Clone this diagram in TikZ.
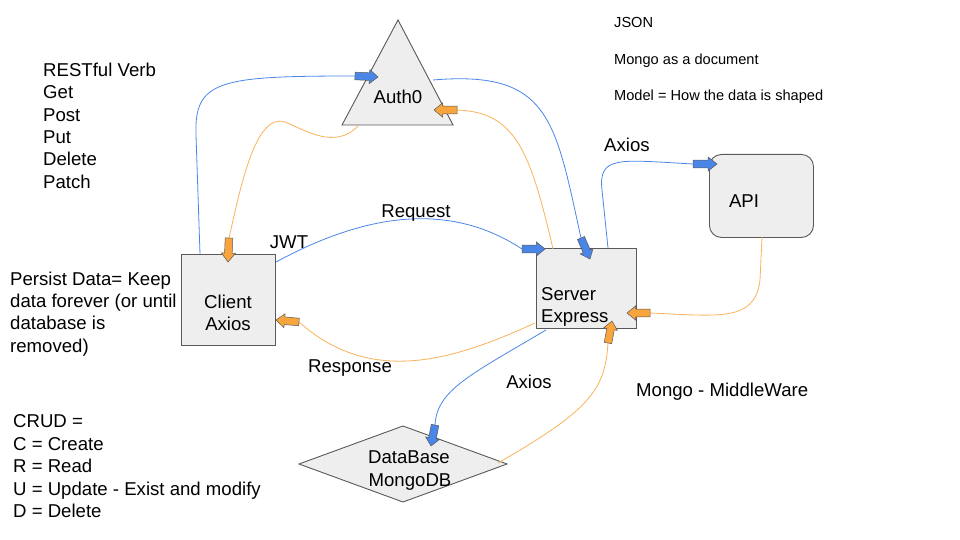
\documentclass[tikz,border=0pt]{standalone}
\usepackage{fontspec}
\setmainfont{Liberation Sans}
\usetikzlibrary{calc}
\definecolor{lineblue}{HTML}{4A86E8}
\definecolor{fillblue}{HTML}{4A86E8}
\definecolor{lineorange}{HTML}{F9B35A}
\definecolor{fillorange}{HTML}{F9A53E}
\definecolor{shapefill}{HTML}{EEEEEE}
\definecolor{shapeedge}{HTML}{595959}
\tikzset{
  shapebox/.style={draw=shapeedge, fill=shapefill, line width=0.9pt},
  bconn/.style={draw=lineblue, line width=0.8pt},
  oconn/.style={draw=lineorange, line width=0.8pt},
  bigtxt/.style={font=\fontsize{18.6}{22}\selectfont, inner sep=0pt, anchor=base west},
  smalltxt/.style={font=\fontsize{14.6}{17}\selectfont, inner sep=0pt, anchor=base west},
}
\newcommand{\blockarr}[3]{%
  \path (#1) coordinate (ba-t) ($(#1)!0.63!(#2)$) coordinate (ba-h) (#2) coordinate (ba-p);
  \filldraw[fill=#3, draw=shapeedge, line width=0.5pt, line join=miter]
    ($(ba-t)!3.8pt!90:(ba-p)$) -- ($(ba-h)!3.8pt!90:(ba-p)$) -- ($(ba-h)!7pt!90:(ba-p)$)
    -- (ba-p) -- ($(ba-h)!7pt!-90:(ba-p)$) -- ($(ba-h)!3.8pt!-90:(ba-p)$)
    -- ($(ba-t)!3.8pt!-90:(ba-p)$) -- cycle;}
\begin{document}
\begin{tikzpicture}[x=1pt,y=-1pt]
\fill[white] (0,0) rectangle (960,540);
\useasboundingbox (0,0) rectangle (960,540);

% shapes
\path[shapebox] (398,20) -- (453,125) -- (342,125) -- cycle;
\node[shapebox, minimum width=94pt, minimum height=91pt, inner sep=0pt, anchor=north west] (client) at (181,254) {};
\node[shapebox, minimum width=100pt, minimum height=80pt, inner sep=0pt, anchor=north west] (server) at (536,248) {};
\node[shapebox, rounded corners=12pt, minimum width=104pt, minimum height=83pt, inner sep=0pt, anchor=north west] (api) at (709,154) {};
\path[shapebox] (403,426) -- (507,464) -- (403,502) -- (299,464) -- cycle;

% attachment points
\coordinate (cTop) at (200,254);
\coordinate (cRight) at (276,262);
\coordinate (aRight) at (433,80);
\coordinate (aBase) at (358,126);
\coordinate (sTopR) at (608,248);
\coordinate (sTopL) at (553,249);
\coordinate (sLeft) at (535,323);
\coordinate (sBot) at (546,330);
\coordinate (apiBot) at (762,237);
\coordinate (dRight) at (498,463);
% arrow tails and tips
\coordinate (t1) at (355,76);  \coordinate (p1) at (378,77);
\coordinate (t2) at (581,238); \coordinate (p2) at (590,259);
\coordinate (t3) at (522,249); \coordinate (p3) at (545,249);
\coordinate (t4) at (693,164); \coordinate (p4) at (717,164);
\coordinate (t5) at (435,425); \coordinate (p5) at (431,446);
\coordinate (u1) at (229,238); \coordinate (q1) at (228,262);
\coordinate (u2) at (457,110); \coordinate (q2) at (434,110);
\coordinate (u3) at (299,322); \coordinate (q3) at (276,320);
\coordinate (u4) at (650,313); \coordinate (q4) at (627,313);
\coordinate (u5) at (608,343); \coordinate (q5) at (612,321);

% blue connectors
\draw[bconn] (cTop) -- (196,135) .. controls (194,80) and (220,76) .. (t1);
\draw[bconn] (aRight) .. controls (550,70) and (555,120) .. (t2);
\draw[bconn] (cRight) .. controls (350,222) and (440,195) .. (t3);
\draw[bconn] (sTopR) -- (602,190) .. controls (598,155) and (620,160) .. (t4);
\draw[bconn] (sBot) .. controls (470,375) and (437,390) .. (t5);
% orange connectors
\draw[oconn] (aBase) .. controls (335,150) and (305,130) .. (285,122) .. controls (255,112) and (240,190) .. (u1);
\draw[oconn] (sTopL) .. controls (530,150) and (515,112) .. (u2);
\draw[oconn] (sLeft) .. controls (450,362) and (370,385) .. (u3);
\draw[oconn] (apiBot) -- (760,280) .. controls (755,322) and (720,316) .. (u4);
\draw[oconn] (dRight) .. controls (590,410) and (605,390) .. (u5);

% block arrowheads
\blockarr{t1}{p1}{fillblue}
\blockarr{t2}{p2}{fillblue}
\blockarr{t3}{p3}{fillblue}
\blockarr{t4}{p4}{fillblue}
\blockarr{t5}{p5}{fillblue}
\blockarr{u1}{q1}{fillorange}
\blockarr{u2}{q2}{fillorange}
\blockarr{u3}{q3}{fillorange}
\blockarr{u4}{q4}{fillorange}
\blockarr{u5}{q5}{fillorange}

% shape labels
\node[bigtxt, anchor=base] (authlbl) at (398,104) {Auth0};
\node[bigtxt, anchor=base] (clientl1) at (228,308) {Client};
\node[bigtxt, anchor=base] (clientl2) at (228,330) {Axios};
\node[bigtxt] (serverl1) at (541,300) {Server};
\node[bigtxt] (serverl2) at (541,322) {Express};
\node[bigtxt, anchor=base] (apilbl) at (744,207) {API};
\node[bigtxt, anchor=base] (dbl1) at (409,463) {DataBase};
\node[bigtxt, anchor=base] (dbl2) at (410,486) {MongoDB};

% connector labels
\node[bigtxt] (axiosTop) at (604,152) {Axios};
\node[bigtxt, anchor=base] (reqlbl) at (416,217) {Request};
\node[bigtxt, anchor=base] (jwtlbl) at (289,248) {JWT};
\node[bigtxt, anchor=base] (resplbl) at (350,372) {Response};
\node[bigtxt, anchor=base] (axiosBot) at (529,388) {Axios};
\node[bigtxt] (mongomw) at (636,396) {Mongo - MiddleWare};

% notes
\foreach \t [count=\i] in {RESTful Verb,Get,Post,Put,Delete,Patch}
  \node[bigtxt] (rest\i) at (43,{76.5+22.3*(\i-1)}) {\t};
\foreach \t [count=\i] in {Persist Data= Keep,data forever (or until,database is,removed)}
  \node[bigtxt] (persist\i) at (10,{285+22.4*(\i-1)}) {\t};
\foreach \t [count=\i] in {CRUD =,C = Create,R = Read,U = Update - Exist and modify,D = Delete}
  \node[bigtxt] (crud\i) at (13,{427.5+22.5*(\i-1)}) {\t};
\node[smalltxt] (json) at (614,28) {JSON};
\node[smalltxt] (mongodoc) at (614,65) {Mongo as a document};
\node[smalltxt] (model) at (614,101) {Model = How the data is shaped};
\end{tikzpicture}
\end{document}
